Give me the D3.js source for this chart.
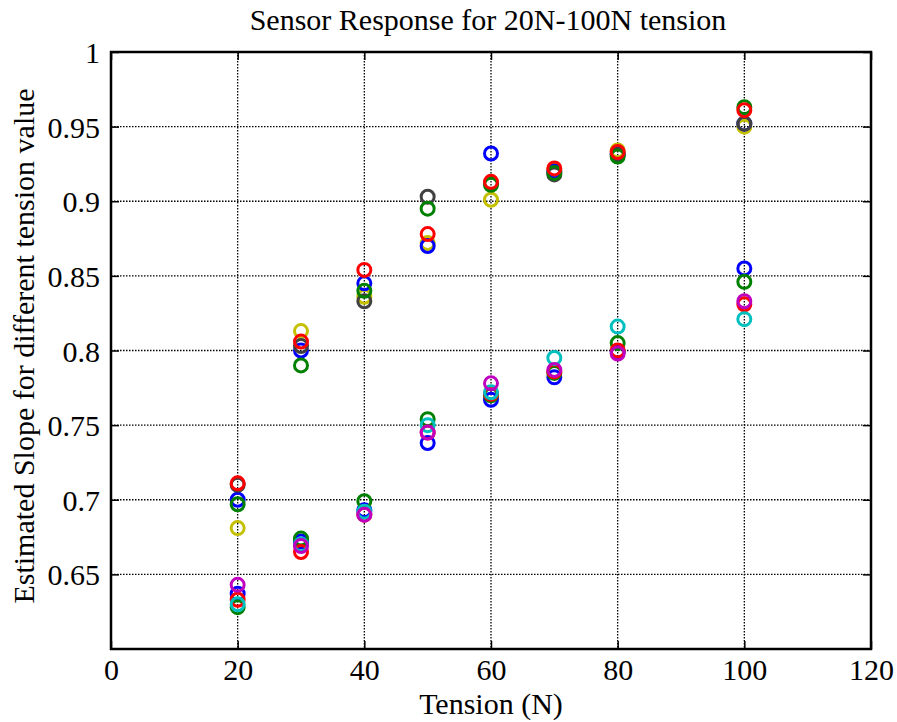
<!DOCTYPE html>
<html>
<head>
<meta charset="utf-8">
<script src="https://cdn.jsdelivr.net/npm/d3@7"></script>
<style>
  body { margin: 0; background: #fff; }
  svg text { font-family: "Liberation Serif", "Times New Roman", serif; fill: #000; }
</style>
</head>
<body>
<div id="chart"></div>
<script>
const tension = [20, 30, 40, 50, 60, 70, 80, 100];

// upper cluster
const gray    = [0.710, 0.803, 0.833, 0.903, 0.912, 0.918, 0.931, 0.952];
const red1    = [0.711, 0.806, 0.854, 0.878, 0.913, 0.922, 0.933, 0.961];
const blue1   = [0.700, 0.800, 0.845, 0.870, 0.932, 0.920, 0.932, 0.952];
const green1  = [0.697, 0.790, 0.840, 0.895, 0.911, 0.919, 0.930, 0.963];
const yellow  = [0.681, 0.813, 0.836, 0.872, 0.901, 0.921, 0.934, 0.950];

// lower cluster
const blue2   = [0.637, 0.672, 0.693, 0.738, 0.767, 0.782, 0.799, 0.855];
const green2  = [0.628, 0.674, 0.699, 0.754, 0.770, 0.785, 0.805, 0.846];
const red2    = [0.633, 0.665, 0.690, 0.745, 0.771, 0.786, 0.800, 0.831];
const cyan    = [0.630, 0.670, 0.692, 0.750, 0.772, 0.795, 0.816, 0.821];
const magenta = [0.643, 0.669, 0.690, 0.745, 0.778, 0.787, 0.798, 0.833];

const xTicks = [0, 20, 40, 60, 80, 100, 120];
const yTicks = [0.65, 0.7, 0.75, 0.8, 0.85, 0.9, 0.95, 1];

// drawing order (last on top)
const series = [
  { values: yellow,  color: "#c4c000" },
  { values: blue1,   color: "#0000ff" },
  { values: gray,    color: "#404040" },
  { values: green1,  color: "#008000" },
  { values: red1,    color: "#ff0000" },
  { values: blue2,   color: "#0000ff" },
  { values: green2,  color: "#008000" },
  { values: red2,    color: "#ff0000" },
  { values: cyan,    color: "#00bfbf" },
  { values: magenta, color: "#bf00bf" }
];

const font = "Liberation Serif, Times New Roman, serif";
const W = 897, H = 722;
const margin = { top: 52, right: 26, bottom: 73, left: 111 };
const width = W - margin.left - margin.right;
const height = H - margin.top - margin.bottom;

const svg = d3.select("#chart").append("svg")
  .attr("width", W).attr("height", H);

const g = svg.append("g")
  .attr("transform", `translate(${margin.left},${margin.top})`);

const x = d3.scaleLinear().domain([0, 120]).range([0, width]);
const y = d3.scaleLinear().domain([0.6, 1]).range([height, 0]);

// grid
g.append("g").selectAll("line")
  .data(xTicks.slice(1, -1))
  .join("line")
  .attr("x1", d => x(d)).attr("x2", d => x(d))
  .attr("y1", 0).attr("y2", height)
  .attr("stroke", "#000").attr("stroke-width", 1.3)
  .attr("stroke-dasharray", "1.5,1.5");

g.append("g").selectAll("line")
  .data(yTicks.slice(0, -1))
  .join("line")
  .attr("x1", 0).attr("x2", width)
  .attr("y1", d => y(d)).attr("y2", d => y(d))
  .attr("stroke", "#000").attr("stroke-width", 1.3)
  .attr("stroke-dasharray", "1.5,1.5");

// axes
const xAxis = g.append("g")
  .attr("transform", `translate(0,${height})`)
  .call(d3.axisBottom(x).tickValues(xTicks).tickSize(-8).tickPadding(10).tickFormat(d3.format("d")));
const yAxis = g.append("g")
  .call(d3.axisLeft(y).tickValues(yTicks).tickSize(-8).tickPadding(11).tickFormat(d => d3.format("")(d)));

g.append("g")
  .call(d3.axisTop(x).tickValues(xTicks).tickSize(-8).tickFormat(""));
g.append("g")
  .attr("transform", `translate(${width},0)`)
  .call(d3.axisRight(y).tickValues(yTicks).tickSize(-8).tickFormat(""));

g.selectAll(".domain").remove();
g.selectAll(".tick line").attr("stroke", "#000").attr("stroke-width", 1.5);
[xAxis, yAxis].forEach(a => a.attr("font-family", font).attr("font-size", 30));
xAxis.selectAll("text").style("font-family", font).style("font-size", "30px").attr("fill", "#000");
yAxis.selectAll("text").style("font-family", font).style("font-size", "30px").attr("fill", "#000").attr("dy", "0.35em");

// frame
g.append("rect")
  .attr("width", width).attr("height", height)
  .attr("fill", "none").attr("stroke", "#000").attr("stroke-width", 2.5);

// points
series.forEach(s => {
  g.append("g").selectAll("circle")
    .data(s.values.map((v, i) => [tension[i], v]))
    .join("circle")
    .attr("cx", d => x(d[0]))
    .attr("cy", d => y(d[1]))
    .attr("r", 6.5)
    .attr("fill", "none")
    .attr("stroke", s.color)
    .attr("stroke-width", 3);
});

// labels
svg.append("text")
  .attr("x", 488).attr("y", 30)
  .attr("text-anchor", "middle")
  .style("font-size", "30px")
  .text("Sensor Response for 20N-100N tension");

svg.append("text")
  .attr("x", margin.left + width / 2).attr("y", 714)
  .attr("text-anchor", "middle")
  .style("font-size", "30px")
  .text("Tension (N)");

svg.append("text")
  .attr("transform", `translate(34,346) rotate(-90)`)
  .attr("text-anchor", "middle")
  .style("font-size", "30px")
  .text("Estimated Slope for different tension value");
</script>
</body>
</html>
